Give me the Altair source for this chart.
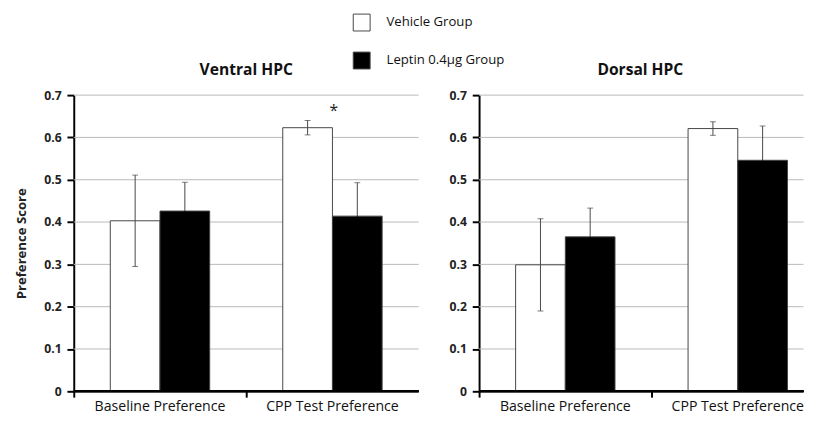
import altair as alt
import pandas as pd

phases = ["Baseline Preference", "CPP Test Preference"]
groups = ["Vehicle Group", "Leptin 0.4µg Group"]

# order: Baseline-Vehicle, Baseline-Leptin, CPP-Vehicle, CPP-Leptin
row_phase = ["Baseline Preference", "Baseline Preference", "CPP Test Preference", "CPP Test Preference"]
row_group = ["Vehicle Group", "Leptin 0.4µg Group", "Vehicle Group", "Leptin 0.4µg Group"]

ventral_mean = [0.403, 0.426, 0.623, 0.414]
ventral_err = [0.108, 0.068, 0.017, 0.079]
ventral_sig = ["", "", "*", ""]
ventral_sig_y = [None, None, 0.667, None]

dorsal_mean = [0.299, 0.365, 0.621, 0.546]
dorsal_err = [0.109, 0.068, 0.016, 0.081]
dorsal_sig = ["", "", "", ""]
dorsal_sig_y = [None, None, None, None]

y_ticks = [0, 0.1, 0.2, 0.3, 0.4, 0.5, 0.6, 0.7]

FONT = "Open Sans"
BAND_W = 354  # full width of the two category bands


def make_df(mean, err, sig, sig_y):
    return pd.DataFrame({
        "phase": row_phase,
        "group": row_group,
        "mean": mean,
        "lo": [m - e for m, e in zip(mean, err)],
        "hi": [m + e for m, e in zip(mean, err)],
        "sig": sig,
        "sig_y": sig_y,
    })


grid_df = pd.DataFrame({"v": y_ticks})


def panel(df, title, ytitle, title_dx, show_legend, view_w):
    x = alt.X("phase:N", sort=phases, title=None,
              scale=alt.Scale(paddingInner=0, paddingOuter=0, range=[0, BAND_W]),
              axis=alt.Axis(bandPosition=0, domain=False,
                            tickColor="black", tickWidth=2, tickSize=6,
                            labelAngle=0, labelFont=FONT, labelFontSize=14.5,
                            labelColor="#111", labelPadding=3, grid=False))
    xo = alt.XOffset("group:N", sort=groups,
                     scale=alt.Scale(paddingInner=0, paddingOuter=0.735))
    yscale = alt.Scale(domain=[0, 0.7], nice=False)
    yaxis = alt.Axis(values=y_ticks, grid=False,
                     labelExpr="datum.value == 0 ? '0' : format(datum.value, '.1f')",
                     domainColor="black", domainWidth=2, tickColor="black",
                     tickWidth=2, tickSize=7, labelPadding=6, labelFont=FONT,
                     labelFontSize=12.5, labelFontWeight="bold", labelColor="#222",
                     titleFont=FONT, titleFontSize=13.5, titleFontWeight="bold",
                     titleColor="#222", titlePadding=16)

    legend = alt.Legend(orient="none", legendX=286, legendY=-84, title=None, padding=0,
                        symbolType="square", symbolSize=300, symbolStrokeColor="#444",
                        symbolStrokeWidth=1, labelFont=FONT, labelFontSize=13.5,
                        labelColor="#111", labelOffset=16, rowPadding=16) if show_legend else None

    is_veh = alt.datum.group == groups[0]
    is_lep = alt.datum.group == groups[1]

    gridlines = alt.Chart(grid_df).mark_rule(color="#b8b8b8", strokeWidth=1).encode(
        y=alt.Y("v:Q", scale=yscale, axis=yaxis, title=ytitle))

    base = alt.Chart(df)
    bars = base.mark_bar(stroke="#444", strokeWidth=1).encode(
        x=x, xOffset=xo,
        y=alt.Y("mean:Q", scale=yscale, axis=yaxis, title=ytitle),
        color=alt.Color("group:N", sort=groups,
                        scale=alt.Scale(domain=groups, range=["white", "black"]),
                        legend=legend),
    )
    baseline = base.mark_rule(color="black", strokeWidth=2).encode(y=alt.datum(0))
    rule_hi = base.mark_rule(color="#444", strokeWidth=1).encode(
        x=x, xOffset=xo, y=alt.Y("mean:Q", scale=yscale), y2="hi:Q")
    rule_lo_v = base.transform_filter(is_veh).mark_rule(color="#444", strokeWidth=1).encode(
        x=x, xOffset=xo, y=alt.Y("lo:Q", scale=yscale), y2="mean:Q")
    rule_lo_l = base.transform_filter(is_lep).mark_rule(color="black", strokeWidth=1).encode(
        x=x, xOffset=xo, y=alt.Y("lo:Q", scale=yscale), y2="mean:Q")
    cap_lo_v = base.transform_filter(is_veh).mark_tick(color="#444", thickness=1, size=6).encode(
        x=x, xOffset=xo, y=alt.Y("lo:Q", scale=yscale))
    cap_lo_l = base.transform_filter(is_lep).mark_tick(color="black", thickness=1, size=6).encode(
        x=x, xOffset=xo, y=alt.Y("lo:Q", scale=yscale))
    cap_hi = base.mark_tick(color="#444", thickness=1, size=6).encode(
        x=x, xOffset=xo, y=alt.Y("hi:Q", scale=yscale))
    star = base.mark_text(fontSize=16, font=FONT, color="#222", dx=27, dy=2.5).encode(
        x=x, xOffset=xo, y=alt.Y("sig_y:Q", scale=yscale), text="sig:N")

    return alt.layer(gridlines, bars, baseline, rule_hi, rule_lo_v, rule_lo_l,
                     cap_lo_v, cap_lo_l, cap_hi, star).properties(
        width=view_w, height=304,
        title=alt.TitleParams(title, font=FONT, fontSize=16, fontWeight="bold",
                              color="#111", offset=12, dx=title_dx, anchor="middle"),
    )


left = panel(make_df(ventral_mean, ventral_err, ventral_sig, ventral_sig_y),
             "Ventral HPC", "Preference Score", 0, True, BAND_W)
right = panel(make_df(dorsal_mean, dorsal_err, dorsal_sig, dorsal_sig_y),
              "Dorsal HPC", "", -1, False, 333)

chart = alt.hconcat(left, right, spacing=30).properties(
    padding={"left": 6.5, "top": 0, "right": 0, "bottom": 0}
).configure_view(stroke=None)

chart.save("out.html", embed_options={"renderer": "svg", "actions": False})
